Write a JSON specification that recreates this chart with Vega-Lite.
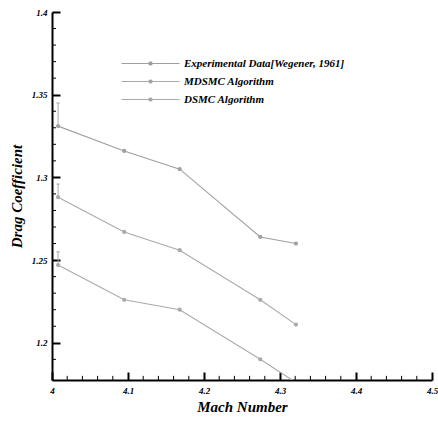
{
  "$schema": "https://vega.github.io/schema/vega-lite/v6.json",
  "autosize": "none",
  "width": 380,
  "height": 368,
  "padding": {"left": 52, "top": 12, "right": 6, "bottom": 41},
  "background": "white",
  "config": {
    "view": {"stroke": null},
    "axis": {
      "domainColor": "black",
      "labelColor": "black",
      "titleColor": "black",
      "labelFont": "Liberation Serif",
      "labelFontStyle": "italic",
      "labelFontWeight": "bold",
      "labelFontSize": 9,
      "titleFont": "Liberation Serif",
      "titleFontStyle": "italic",
      "titleFontWeight": "bold",
      "titleFontSize": 15,
      "grid": false
    }
  },
  "datasets": {
    "curves": [
      {"series": "Experimental Data[Wegener, 1961]", "mach": 4.008, "cd": 1.331},
      {"series": "Experimental Data[Wegener, 1961]", "mach": 4.095, "cd": 1.316},
      {"series": "Experimental Data[Wegener, 1961]", "mach": 4.168, "cd": 1.305},
      {"series": "Experimental Data[Wegener, 1961]", "mach": 4.274, "cd": 1.264},
      {"series": "Experimental Data[Wegener, 1961]", "mach": 4.321, "cd": 1.260},
      {"series": "MDSMC Algorithm", "mach": 4.008, "cd": 1.288},
      {"series": "MDSMC Algorithm", "mach": 4.095, "cd": 1.267},
      {"series": "MDSMC Algorithm", "mach": 4.168, "cd": 1.256},
      {"series": "MDSMC Algorithm", "mach": 4.274, "cd": 1.226},
      {"series": "MDSMC Algorithm", "mach": 4.321, "cd": 1.211},
      {"series": "DSMC Algorithm", "mach": 4.008, "cd": 1.247},
      {"series": "DSMC Algorithm", "mach": 4.095, "cd": 1.226},
      {"series": "DSMC Algorithm", "mach": 4.168, "cd": 1.220},
      {"series": "DSMC Algorithm", "mach": 4.274, "cd": 1.190},
      {"series": "DSMC Algorithm", "mach": 4.321, "cd": 1.176}
    ],
    "errors": [
      {"series": "Experimental Data[Wegener, 1961]", "mach": 4.008, "cd": 1.331, "hi": 1.345},
      {"series": "MDSMC Algorithm", "mach": 4.008, "cd": 1.288, "hi": 1.296},
      {"series": "DSMC Algorithm", "mach": 4.008, "cd": 1.247, "hi": 1.255}
    ],
    "minorMach": [
      {"mach": 4.02}, {"mach": 4.04}, {"mach": 4.06}, {"mach": 4.08},
      {"mach": 4.12}, {"mach": 4.14}, {"mach": 4.16}, {"mach": 4.18},
      {"mach": 4.22}, {"mach": 4.24}, {"mach": 4.26}, {"mach": 4.28},
      {"mach": 4.32}, {"mach": 4.34}, {"mach": 4.36}, {"mach": 4.38},
      {"mach": 4.42}, {"mach": 4.44}, {"mach": 4.46}, {"mach": 4.48}
    ],
    "minorCd": [
      {"cd": 1.19}, {"cd": 1.21}, {"cd": 1.22}, {"cd": 1.23}, {"cd": 1.24},
      {"cd": 1.26}, {"cd": 1.27}, {"cd": 1.28}, {"cd": 1.29},
      {"cd": 1.31}, {"cd": 1.32}, {"cd": 1.33}, {"cd": 1.34},
      {"cd": 1.36}, {"cd": 1.37}, {"cd": 1.38}, {"cd": 1.39}
    ]
  },
  "layer": [
    {
      "data": {"name": "curves"},
      "mark": {"type": "line", "clip": true, "strokeWidth": 1.1, "point": {"filled": true, "size": 5, "color": "#808080"}},
      "encoding": {
        "x": {
          "field": "mach", "type": "quantitative",
          "scale": {"domain": [4, 4.5], "nice": false, "zero": false},
          "axis": {
            "title": "Mach Number",
            "values": [4, 4.1, 4.2, 4.3, 4.4, 4.5],
            "format": ".1~f",
            "domainWidth": 2,
            "ticks": false,
            "labelPadding": 6,
            "titlePadding": 4,
            "labelFlush": false
          }
        },
        "y": {
          "field": "cd", "type": "quantitative",
          "scale": {"domain": [1.1775, 1.4], "nice": false, "zero": false},
          "axis": {
            "title": "Drag Coefficient",
            "values": [1.2, 1.25, 1.3, 1.35, 1.4],
            "format": ".2~f",
            "domainWidth": 2,
            "ticks": false,
            "labelPadding": 5,
            "titlePadding": 7,
            "labelFlush": false
          }
        },
        "stroke": {
          "field": "series", "type": "nominal",
          "scale": {
            "domain": ["Experimental Data[Wegener, 1961]", "MDSMC Algorithm", "DSMC Algorithm"],
            "range": ["#a0a0a0", "#aaaaaa", "#aaaaaa"]
          },
          "legend": {
            "title": null,
            "orient": "none",
            "legendX": 93,
            "legendY": 46,
            "padding": 0,
            "rowPadding": 6,
            "symbolType": "M-7.25,0H7.25M-0.35,-0.35H0.35V0.35H-0.35Z",
            "symbolSize": 64,
            "symbolStrokeWidth": 1,
            "symbolFillColor": "#808080",
            "labelFont": "Liberation Serif",
            "labelFontStyle": "italic",
            "labelFontWeight": "bold",
            "labelFontSize": 11,
            "labelColor": "black",
            "labelOffset": 28,
            "labelLimit": 300
          }
        }
      }
    },
    {
      "data": {"name": "errors"},
      "mark": {"type": "rule", "color": "#aaaaaa", "strokeWidth": 1},
      "encoding": {
        "x": {
          "field": "mach", "type": "quantitative",
          "axis": {
            "orient": "top",
            "offset": -368,
            "title": null,
            "values": [4, 4.1, 4.2, 4.3, 4.4, 4.5],
            "labels": false,
            "domain": false,
            "ticks": true,
            "tickColor": "black",
            "tickSize": 8,
            "tickWidth": 2
          }
        },
        "y": {
          "field": "cd", "type": "quantitative",
          "axis": {
            "orient": "right",
            "offset": -380,
            "title": null,
            "values": [1.2, 1.25, 1.3, 1.35, 1.4],
            "labels": false,
            "domain": false,
            "ticks": true,
            "tickColor": "black",
            "tickSize": 8,
            "tickWidth": 2
          }
        },
        "y2": {"field": "hi"}
      }
    },
    {
      "data": {"name": "errors"},
      "mark": {"type": "point", "shape": "stroke", "size": 12, "color": "#888888", "strokeWidth": 1},
      "encoding": {
        "x": {"field": "mach", "type": "quantitative", "axis": null},
        "y": {"field": "hi", "type": "quantitative", "axis": null}
      }
    },
    {
      "data": {"name": "minorMach"},
      "mark": {"type": "rule", "color": "black", "strokeWidth": 1},
      "encoding": {
        "x": {"field": "mach", "type": "quantitative", "axis": null},
        "y": {"datum": 1.1775, "type": "quantitative", "axis": null},
        "y2": {"datum": 1.18}
      }
    },
    {
      "data": {"name": "minorCd"},
      "mark": {"type": "rule", "color": "black", "strokeWidth": 1},
      "encoding": {
        "y": {"field": "cd", "type": "quantitative", "axis": null},
        "x": {"datum": 4, "type": "quantitative", "axis": null},
        "x2": {"datum": 4.0053}
      }
    }
  ],
  "resolve": {"axis": {"x": "independent", "y": "independent"}}
}
